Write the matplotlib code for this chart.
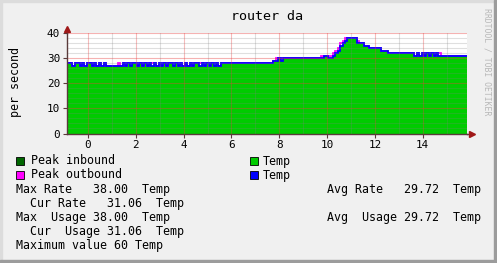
import matplotlib.pyplot as plt
import numpy as np
from matplotlib.patches import Rectangle

W, H = 497, 263

# rrd samples: start time and step (hours), one value per step
t_start = -0.95
t_step = 0.1

temp_in = [
    28, 28, 28, 27, 28, 28, 27, 28, 27, 28,
    28, 27, 28, 27, 28, 27, 28, 27, 27, 27,
    27, 27, 27, 27, 28, 27, 28, 27, 28, 28,
    27, 28, 27, 28, 27, 28, 27, 28, 27, 28,
    27, 28, 27, 28, 28, 27, 28, 27, 28, 27,
    28, 27, 28, 27, 28, 28, 27, 28, 27, 28,
    27, 28, 27, 28, 27, 28, 28, 28, 28, 28,
    28, 28, 28, 28, 28, 28, 28, 28, 28, 28,
    28, 28, 28, 28, 28, 28, 28, 29, 29, 30,
    29, 30, 30, 30, 30, 30, 30, 30, 30, 30,
    30, 30, 30, 30, 30, 30, 30, 30, 31, 31,
    30, 30, 31, 32, 33, 35, 36, 37, 38, 38,
    38, 38, 36, 36, 36, 35, 35, 34, 34, 34,
    34, 34, 33, 33, 33, 32, 32, 32, 32, 32,
    32, 32, 32, 32, 32, 32, 31, 32, 31, 32,
    31, 32, 31, 32, 31, 32, 31, 31, 31, 31,
    31, 31, 31, 31, 31, 31, 31, 31,
]

temp_out = [
    28, 28, 28, 27, 28, 28, 27, 28, 27, 28,
    28, 27, 28, 27, 28, 27, 28, 27, 27, 27,
    27, 27, 28, 27, 28, 27, 28, 28, 28, 28,
    27, 28, 27, 28, 27, 28, 28, 28, 27, 28,
    27, 28, 27, 28, 28, 28, 28, 27, 28, 27,
    28, 27, 28, 27, 28, 28, 28, 28, 27, 28,
    27, 28, 28, 28, 27, 28, 28, 28, 28, 28,
    28, 28, 28, 28, 28, 28, 28, 28, 28, 28,
    28, 28, 28, 28, 28, 28, 28, 29, 30, 30,
    30, 30, 30, 30, 30, 30, 30, 30, 30, 30,
    30, 30, 30, 30, 30, 30, 30, 31, 31, 31,
    31, 31, 32, 33, 34, 36, 37, 38, 38, 38,
    38, 38, 37, 36, 36, 35, 35, 34, 34, 34,
    34, 34, 33, 33, 33, 32, 32, 32, 32, 32,
    32, 32, 32, 32, 32, 32, 31, 32, 31, 32,
    31, 32, 31, 32, 31, 32, 32, 31, 31, 31,
    31, 31, 31, 31, 31, 31, 31, 31,
]

x_ticks = [0, 2, 4, 6, 8, 10, 12, 14]
y_ticks = [0, 10, 20, 30, 40]

legend_rows = [
    ("#006600", "Peak inbound", "#00cc00", "Temp"),
    ("#ff00ff", "Peak outbound", "#0000ff", "Temp"),
]
stat_left = [
    "Max Rate   38.00  Temp",
    "  Cur Rate   31.06  Temp",
    "Max  Usage 38.00  Temp",
    "  Cur  Usage 31.06  Temp",
    "Maximum value 60 Temp",
]
stat_right = [
    "Avg Rate   29.72  Temp",
    "",
    "Avg  Usage 29.72  Temp",
    "",
    "",
]

mono = "DejaVu Sans Mono"
plt.rcParams["font.family"] = mono

fig = plt.figure(figsize=(W / 100, H / 100), dpi=100, facecolor="#f0f0f0")

# frame around the image
fig.patches.append(Rectangle((0, 0), 2 / W, 1, transform=fig.transFigure, color="#dcdcdc", zorder=0))
fig.patches.append(Rectangle((0, 1 - 2 / H), 1, 2 / H, transform=fig.transFigure, color="#dcdcdc", zorder=0))
fig.patches.append(Rectangle((1 - 3 / W, 0), 3 / W, 1, transform=fig.transFigure, color="#9c9c9c", zorder=0))
fig.patches.append(Rectangle((0, 0), 1, 3 / H, transform=fig.transFigure, color="#9c9c9c", zorder=0))

ax = fig.add_axes([67 / W, 1 - 133.5 / H, 400 / W, 100.5 / H])
ax.set_facecolor("white")

edges = t_start + t_step * np.arange(len(temp_in) + 1)
ax.stairs(temp_in, edges, fill=True, color="#00cc00", baseline=0, zorder=1)
ax.stairs(temp_out, edges, baseline=None, color="#ff00ff", lw=1.3, zorder=2)
ax.stairs(temp_in, edges, baseline=None, color="#0000ff", lw=1.3, zorder=3)

ax.set_xlim(edges[0] + 0.07, edges[-1])
ax.set_ylim(0, 40)

# grid drawn on top, semi-transparent like rrdtool
for v in range(0, 16):
    if v % 2 == 0:
        ax.axvline(v, color=(0.9, 0.25, 0.25, 0.35), lw=0.8, zorder=4)
    else:
        ax.axvline(v, color=(0.5, 0.5, 0.5, 0.25), lw=0.8, zorder=4)
for v in range(2, 41, 2):
    if v % 10 == 0:
        ax.axhline(v, color=(0.9, 0.25, 0.25, 0.4), lw=0.8, zorder=4)
    else:
        ax.axhline(v, color=(0.5, 0.5, 0.5, 0.25), lw=0.8, zorder=4)

for s in ["top", "right"]:
    ax.spines[s].set_visible(False)
for s in ["left", "bottom"]:
    ax.spines[s].set_color("#5a3a3a")
    ax.spines[s].set_linewidth(1.0)
    ax.spines[s].set_zorder(5)

# axis arrows
ax.plot([0, 0], [1, 1.035], transform=ax.transAxes, color="#5a3a3a", lw=1, clip_on=False)
ax.plot([0], [1.035], marker="^", ms=5, color="#a01818", transform=ax.transAxes, clip_on=False)
ax.plot([1, 1.0075], [0, 0], transform=ax.transAxes, color="#5a3a3a", lw=1, clip_on=False)
ax.plot([1.0125], [0], marker=">", ms=5, color="#a01818", transform=ax.transAxes, clip_on=False)

ax.set_xticks(x_ticks)
ax.set_yticks(y_ticks)
ax.tick_params(direction="out", length=3, width=0.8, color="#5a3a3a", labelsize=7.9, pad=2)

ax.set_title("router da", fontsize=9.6, pad=0, y=1 + (33 - 17) / 100.5, va="center")
fig.text(15 / W, 1 - 82 / H, "per second", rotation=90, fontsize=8.4, ha="center", va="center")
fig.text(487 / W, 1 - 62 / H, "RRDTOOL / TOBI OETIKER", rotation=270, fontsize=5.9,
         color="#b8b8b8", ha="center", va="center")

# legend
row_y = [161, 175, 189, 203, 217, 231, 245]
for i, (c1, t1, c2, t2) in enumerate(legend_rows):
    y = row_y[i]
    fig.patches.append(Rectangle((16 / W, 1 - (y + 4) / H), 8 / W, 8 / H, transform=fig.transFigure,
                                 facecolor=c1, edgecolor="black", lw=0.6))
    fig.text(31 / W, 1 - y / H, t1, fontsize=8.4, va="center")
    fig.patches.append(Rectangle((250 / W, 1 - (y + 4) / H), 8 / W, 8 / H, transform=fig.transFigure,
                                 facecolor=c2, edgecolor="black", lw=0.6))
    fig.text(263 / W, 1 - y / H, t2, fontsize=8.4, va="center")

for i, (l, r) in enumerate(zip(stat_left, stat_right)):
    y = row_y[i + 2]
    fig.text(16 / W, 1 - y / H, l, fontsize=8.4, va="center")
    if r:
        fig.text(327 / W, 1 - y / H, r, fontsize=8.4, va="center")

fig.savefig("out.png", dpi=100, facecolor=fig.get_facecolor())
